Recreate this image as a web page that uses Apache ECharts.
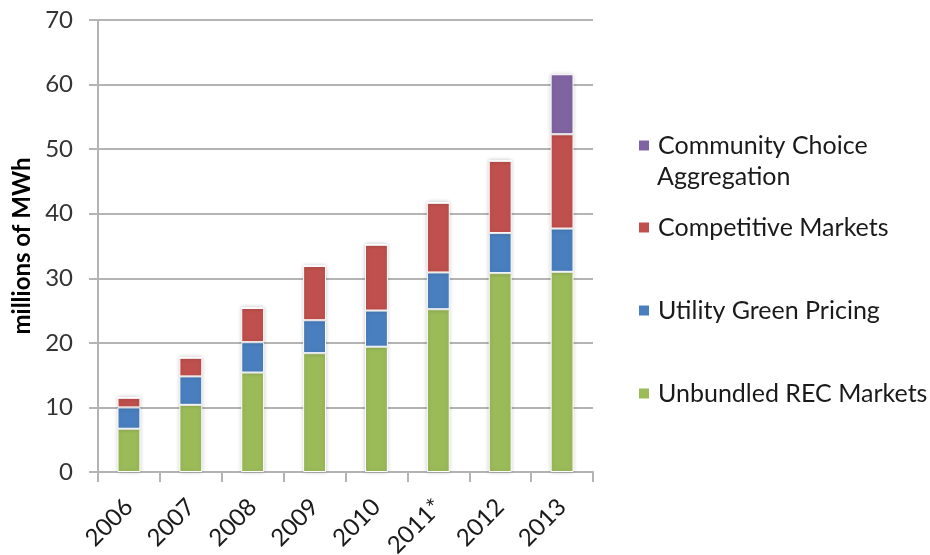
<!DOCTYPE html>
<html>
<head>
<meta charset="utf-8">
<script src="https://cdn.jsdelivr.net/npm/echarts@6/dist/echarts.min.js"></script>
<style>
  html, body { margin: 0; padding: 0; background: #fff; }
  #chart { width: 930px; height: 555px; }
</style>
</head>
<body>
<div id="chart"></div>
<script>
// data (millions of MWh)
var years = ['2006', '2007', '2008', '2009', '2010', '2011*', '2012', '2013'];
var unbundledRec = [6.7, 10.4, 15.4, 18.4, 19.4, 25.2, 30.8, 31.0];
var utilityGreen = [3.3, 4.4, 4.7, 5.1, 5.6, 5.7, 6.2, 6.7];
var competitive = [1.5, 2.9, 5.3, 8.4, 10.2, 10.8, 11.2, 14.6];
var communityChoice = [0, 0, 0, 0, 0, 0, 0, 9.3];
var yTicks = { min: 0, max: 70, step: 10 };

var fontFamily = 'Lato, "Open Sans", sans-serif';
var gridGray = '#b4b4b4';
var legendFont = 25;

function barSeries(name, data, color) {
    return {
        name: name,
        type: 'bar',
        stack: 'total',
        data: data,
        barWidth: '37%',
        itemStyle: {
            color: color,
            borderColor: '#ffffff',
            borderWidth: 1,
            shadowColor: 'rgba(0,0,0,0.18)',
            shadowBlur: 4
        }
    };
}

// one legend per entry, the reference spaces them unevenly
function legendAt(name, top, text) {
    return {
        data: [name],
        left: 637,
        top: top,
        padding: 0,
        orient: 'vertical',
        itemWidth: 12,
        itemHeight: 12,
        itemGap: 0,
        icon: 'rect',
        formatter: function () { return text; },
        textStyle: {
            fontFamily: fontFamily,
            fontSize: legendFont,
            color: '#1a1a1a',
            lineHeight: 33,
            padding: [0, 0, 0, 3]
        }
    };
}

var chart = echarts.init(document.getElementById('chart'));
chart.setOption({
    animation: false,
    backgroundColor: '#ffffff',
    grid: {
        left: 98, right: 337, top: 20, bottom: 83,
        containLabel: false,
        outerBoundsMode: 'none'
    },
    legend: [
        legendAt('Community Choice Aggregation', 129, 'Community Choice'),
        legendAt('Competitive Markets', 211, 'Competitive Markets'),
        legendAt('Utility Green Pricing', 294, 'Utility Green Pricing'),
        legendAt('Unbundled REC Markets', 377, 'Unbundled REC Markets')
    ],
    graphic: [{
        type: 'text',
        left: 657,
        top: 164,
        style: {
            text: 'Aggregation',
            fontFamily: fontFamily,
            fontSize: legendFont,
            fill: '#1a1a1a'
        }
    }],
    xAxis: {
        type: 'category',
        data: years,
        axisLine: { lineStyle: { color: gridGray, width: 2 } },
        axisTick: { show: true, length: 10, lineStyle: { color: gridGray, width: 2 } },
        axisLabel: {
            rotate: 45,
            margin: 31,
            fontFamily: fontFamily,
            fontSize: 24,
            color: '#1a1a1a'
        }
    },
    yAxis: {
        type: 'value',
        min: yTicks.min,
        max: yTicks.max,
        interval: yTicks.step,
        name: 'millions of MWh',
        nameLocation: 'middle',
        nameGap: 64,
        nameTextStyle: {
            fontFamily: fontFamily,
            fontSize: 24,
            fontWeight: 'bold',
            color: '#000'
        },
        axisLine: { show: true, lineStyle: { color: gridGray, width: 2 } },
        axisTick: { show: true, length: 9, lineStyle: { color: gridGray, width: 2 } },
        axisLabel: {
            margin: 25,
            fontFamily: fontFamily,
            fontSize: 24,
            color: '#333'
        },
        splitLine: { lineStyle: { color: gridGray, width: 2 } }
    },
    series: [
        barSeries('Unbundled REC Markets', unbundledRec, '#9bbb59'),
        barSeries('Utility Green Pricing', utilityGreen, '#4a7fbf'),
        barSeries('Competitive Markets', competitive, '#c0504d'),
        barSeries('Community Choice Aggregation', communityChoice, '#8064a2')
    ]
});
</script>
</body>
</html>
